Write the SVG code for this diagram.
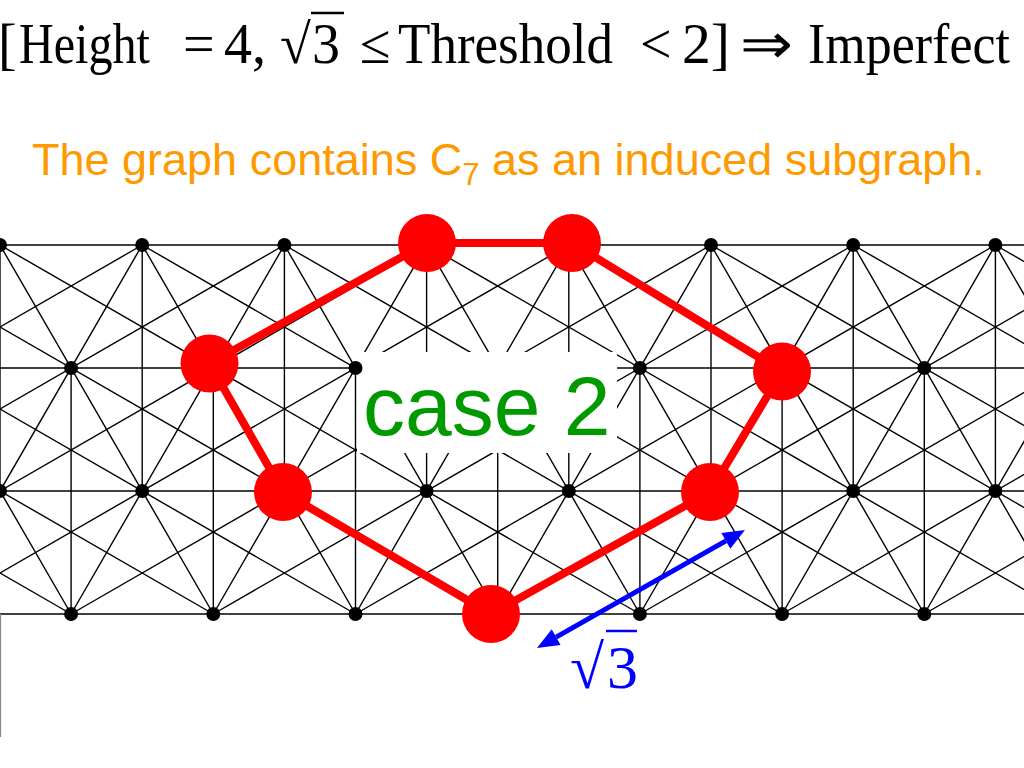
<svg xmlns="http://www.w3.org/2000/svg" xmlns:xlink="http://www.w3.org/1999/xlink" width="1024" height="768" viewBox="0 0 1024 768">
<style>
.lat{stroke:#000;stroke-width:1.4;fill:none}
.dot{fill:#000}
.red{fill:#FF0000}
.redE{stroke:#FF0000;stroke-width:8;stroke-linecap:round;fill:none}
.ttl{font-family:"Liberation Serif","Times New Roman",serif;font-size:56px;fill:#000}
.sub{font-family:"Liberation Sans",Arial,sans-serif;font-size:45px;fill:#FF9900}
.case{font-family:"Liberation Sans",Arial,sans-serif;font-size:84px;fill:#009A00}
.blu{fill:#0000FF}
.bluT{font-family:"Liberation Serif","Times New Roman",serif;font-size:62px;fill:#0000FF}
</style>
<defs>
<g id="cell" class="lat">
<line x1="0" y1="245" x2="213.3" y2="614"/>
<line x1="0" y1="245" x2="-213.3" y2="614"/>
<line x1="0" y1="245" x2="639.9" y2="614"/>
<line x1="0" y1="245" x2="-639.9" y2="614"/>
<line x1="0" y1="245" x2="0" y2="491"/>
<line x1="71.1" y1="368" x2="71.1" y2="614"/>
</g>
</defs>
<rect width="1024" height="768" fill="#fff"/>
<g id="title">
<text class="ttl" x="-2" y="63">[</text>
<text class="ttl" x="19" y="63" textLength="131" lengthAdjust="spacingAndGlyphs">Height</text>
<text class="ttl" x="183" y="63">=</text>
<text class="ttl" x="224" y="63">4,</text>
<text class="ttl" x="280" y="63">√</text>
<text class="ttl" x="312" y="63">3</text>
<line x1="311" y1="13" x2="344" y2="13" stroke="#000" stroke-width="2.5"/>
<text class="ttl" x="360" y="63">≤</text>
<text class="ttl" x="398" y="63" textLength="215" lengthAdjust="spacingAndGlyphs">Threshold</text>
<text class="ttl" x="640" y="63">&lt;</text>
<text class="ttl" x="682" y="63" textLength="48" lengthAdjust="spacingAndGlyphs">2]</text>
<text class="ttl" x="740" y="63" textLength="53" lengthAdjust="spacingAndGlyphs">⇒</text>
<text class="ttl" x="808" y="63" textLength="202" lengthAdjust="spacingAndGlyphs">Imperfect</text>
</g>
<text id="subtitle" class="sub" x="32" y="175">The graph contains C<tspan font-size="31" dy="10">7</tspan><tspan dy="-10"> as an induced subgraph.</tspan></text>
<g id="connectors">
<g id="lattice">
<line class="lat" x1="0" y1="245" x2="1024" y2="245"/>
<line class="lat" x1="0" y1="368" x2="1024" y2="368"/>
<line class="lat" x1="0" y1="491" x2="1024" y2="491"/>
<line class="lat" x1="0" y1="614" x2="1024" y2="614"/>
<line x1="0.5" y1="614" x2="0.5" y2="737" stroke="#888" stroke-width="1.2"/>
<use xlink:href="#cell" x="-711"/>
<use xlink:href="#cell" x="-568.8"/>
<use xlink:href="#cell" x="-426.6"/>
<use xlink:href="#cell" x="-284.4"/>
<use xlink:href="#cell" x="-142.2"/>
<use xlink:href="#cell" x="0"/>
<use xlink:href="#cell" x="142.2"/>
<use xlink:href="#cell" x="284.4"/>
<use xlink:href="#cell" x="426.6"/>
<use xlink:href="#cell" x="568.8"/>
<use xlink:href="#cell" x="711"/>
<use xlink:href="#cell" x="853.2"/>
<use xlink:href="#cell" x="995.4"/>
<use xlink:href="#cell" x="1137.6"/>
<use xlink:href="#cell" x="1279.8"/>
<use xlink:href="#cell" x="1422"/>
<use xlink:href="#cell" x="1564.2"/>
<use xlink:href="#cell" x="1706.4"/>
</g>
<rect id="labelMask" x="357" y="352" width="260" height="101" fill="#fff"/>
<g id="cycle">
<line class="redE" x1="427" y1="243" x2="572" y2="243"/>
<line class="redE" x1="572" y1="243" x2="782" y2="371.5"/>
<line class="redE" x1="782" y1="371.5" x2="710" y2="492"/>
<line class="redE" x1="710" y1="492" x2="491" y2="614"/>
<line class="redE" x1="491" y1="614" x2="283" y2="492"/>
<line class="redE" x1="283" y1="492" x2="209.5" y2="363.5"/>
<line class="redE" x1="209.5" y1="363.5" x2="427" y2="243"/>
</g>
<g id="measure">
<line x1="556.1" y1="637.1" x2="725.9" y2="540.9" stroke="#0000FF" stroke-width="5"/>
<polygon class="blu" points="745,530 730.3,548.7 721.4,533"/>
<polygon class="blu" points="537,648 560.6,645 551.7,629.3"/>
</g>
</g>
<g id="dots">
<g id="p0-0"><circle class="dot" cx="0" cy="245" r="7"/></g>
<g id="p0-1"><circle class="dot" cx="142.2" cy="245" r="7"/></g>
<g id="p0-2"><circle class="dot" cx="284.4" cy="245" r="7"/></g>
<g id="p0-5"><circle class="dot" cx="711" cy="245" r="7"/></g>
<g id="p0-6"><circle class="dot" cx="853.2" cy="245" r="7"/></g>
<g id="p0-7"><circle class="dot" cx="995.4" cy="245" r="7"/></g>
<g id="p1-0"><circle class="dot" cx="71.1" cy="368" r="7"/></g>
<g id="p1-2"><circle class="dot" cx="355.5" cy="368" r="7"/></g>
<g id="p1-4"><circle class="dot" cx="639.9" cy="368" r="7"/></g>
<g id="p1-6"><circle class="dot" cx="924.3" cy="368" r="7"/></g>
<g id="p2-0"><circle class="dot" cx="0" cy="491" r="7"/></g>
<g id="p2-1"><circle class="dot" cx="142.2" cy="491" r="7"/></g>
<g id="p2-3"><circle class="dot" cx="426.6" cy="491" r="7"/></g>
<g id="p2-4"><circle class="dot" cx="568.8" cy="491" r="7"/></g>
<g id="p2-6"><circle class="dot" cx="853.2" cy="491" r="7"/></g>
<g id="p2-7"><circle class="dot" cx="995.4" cy="491" r="7"/></g>
<g id="p3-0"><circle class="dot" cx="71.1" cy="614" r="7"/></g>
<g id="p3-1"><circle class="dot" cx="213.3" cy="614" r="7"/></g>
<g id="p3-2"><circle class="dot" cx="355.5" cy="614" r="7"/></g>
<g id="p3-4"><circle class="dot" cx="639.9" cy="614" r="7"/></g>
<g id="p3-5"><circle class="dot" cx="782.1" cy="614" r="7"/></g>
<g id="p3-6"><circle class="dot" cx="924.3" cy="614" r="7"/></g>
</g>
<g id="c7">
<g id="c1"><circle class="red" cx="427" cy="243" r="29"/></g>
<g id="c2"><circle class="red" cx="572" cy="243" r="29"/></g>
<g id="c3"><circle class="red" cx="782" cy="371.5" r="29"/></g>
<g id="c4"><circle class="red" cx="710" cy="492" r="29"/></g>
<g id="c5"><circle class="red" cx="491" cy="614" r="29"/></g>
<g id="c6"><circle class="red" cx="283" cy="492" r="29"/></g>
<g id="c7n"><circle class="red" cx="209.5" cy="363.5" r="29"/></g>
</g>
<text id="caseLabel" class="case" x="363" y="435">case 2</text>
<g id="sqrt3Label">
<text class="bluT" x="570" y="688">√</text>
<text class="bluT" x="607" y="688">3</text>
<line x1="606" y1="631" x2="637" y2="631" stroke="#0000FF" stroke-width="2.5"/>
</g>
</svg>
